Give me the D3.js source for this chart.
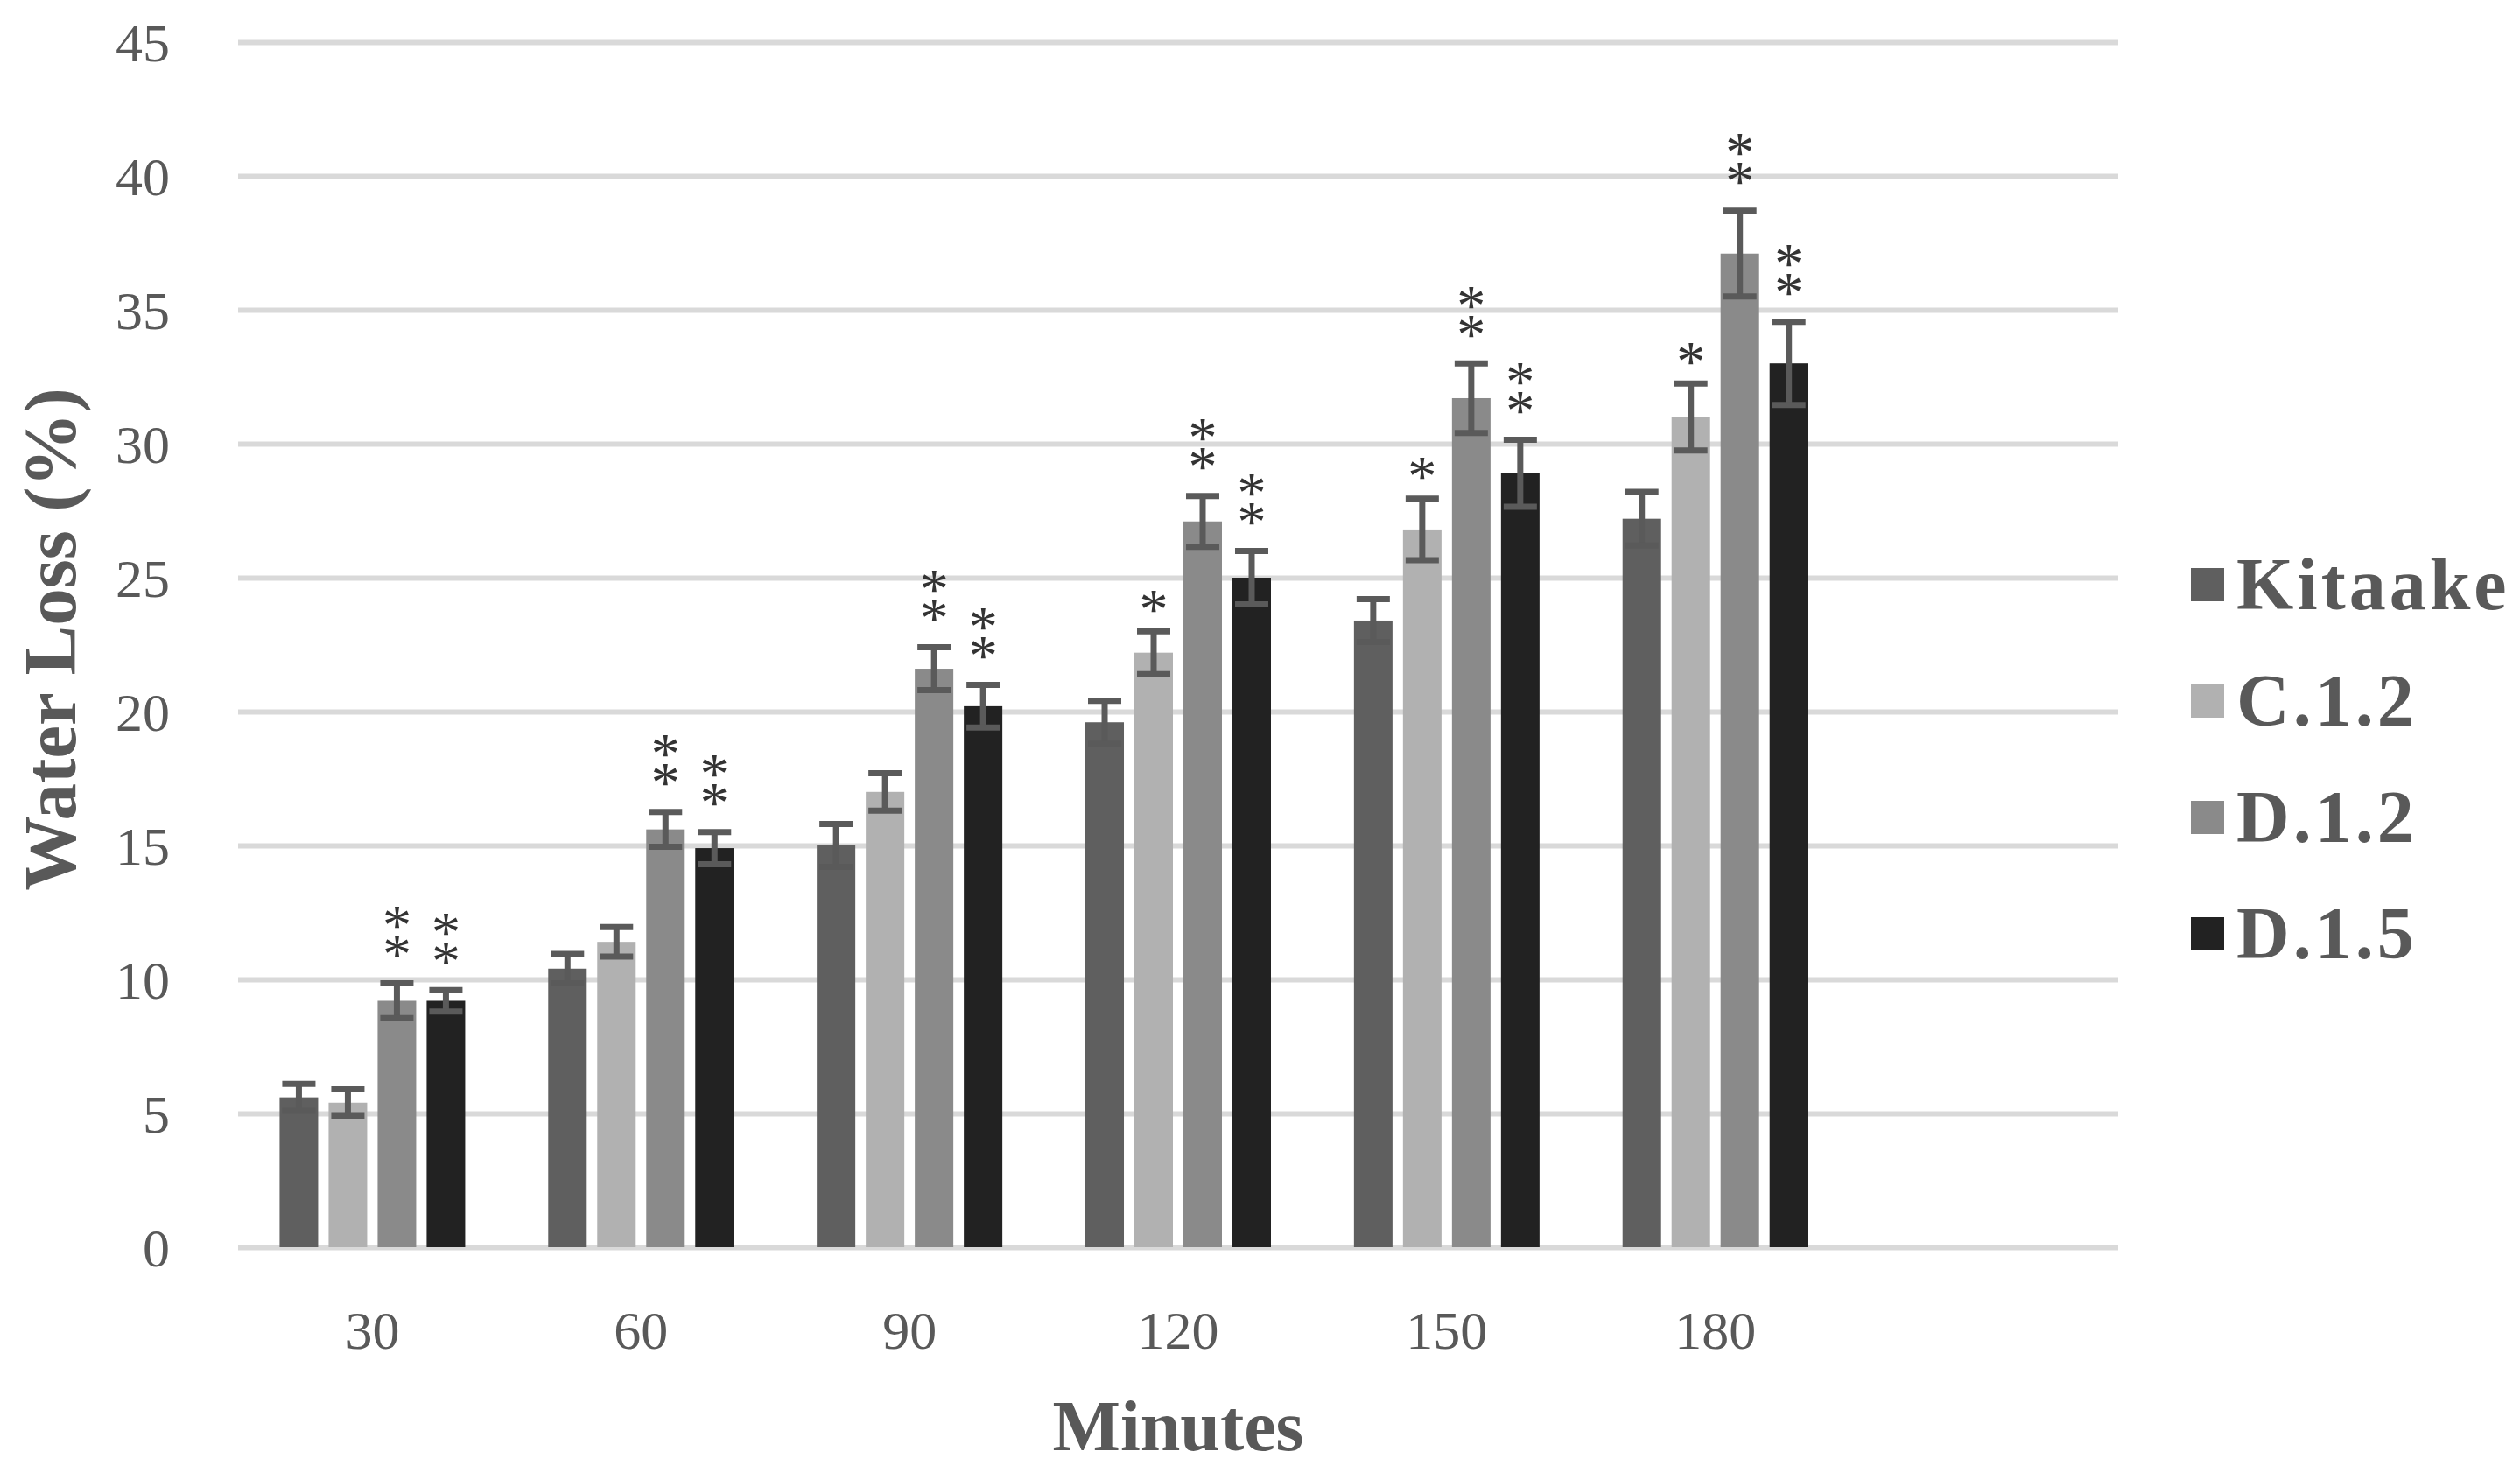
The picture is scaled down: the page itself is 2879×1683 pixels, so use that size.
<!DOCTYPE html>
<html>
<head>
<meta charset="utf-8">
<script src="https://cdn.jsdelivr.net/npm/d3@7"></script>
<style>
  html, body { margin: 0; padding: 0; background: #fff; }
  svg { display: block; }
</style>
</head>
<body>
<svg id="chart"></svg>
<script>
// categories on the x axis (Excel left one empty slot on the right)
const minutes = ["30", "60", "90", "120", "150", "180"];
const categories = [...minutes, ""];
const seriesNames = ["Kitaake", "C.1.2", "D.1.2", "D.1.5"];
const seriesColors = ["#5f5f5f", "#b1b1b1", "#8a8a8a", "#222222"];

// mean water loss (%) and error per series
const kitaake = [5.6, 10.4, 15.0, 19.6, 23.4, 27.2];
const kitaakeErr = [0.5, 0.55, 0.8, 0.8, 0.8, 1.0];
const c12 = [5.4, 11.4, 17.0, 22.2, 26.8, 31.0];
const c12Err = [0.5, 0.55, 0.7, 0.8, 1.15, 1.25];
const d12 = [9.2, 15.6, 21.6, 27.1, 31.7, 37.1];
const d12Err = [0.65, 0.65, 0.8, 0.95, 1.3, 1.6];
const d15 = [9.2, 14.9, 20.2, 25.0, 28.9, 33.0];
const d15Err = [0.4, 0.6, 0.8, 1.0, 1.25, 1.55];

// significance marks
const kitaakeStars = ["", "", "", "", "", ""];
const c12Stars = ["", "", "", "*", "*", "*"];
const d12Stars = ["**", "**", "**", "**", "**", "**"];
const d15Stars = ["**", "**", "**", "**", "**", "**"];

const yTicks = [0, 5, 10, 15, 20, 25, 30, 35, 40, 45];

const values = [kitaake, c12, d12, d15];
const errors = [kitaakeErr, c12Err, d12Err, d15Err];
const stars = [kitaakeStars, c12Stars, d12Stars, d15Stars];

const width = 2879;
const height = 1683;
const plotLeft = 272, plotRight = 2420, plotTop = 48, plotBottom = 1425;
const font = "'Liberation Serif', 'Times New Roman', serif";
const textColor = "#595959";

const svg = d3.select("#chart")
  .attr("width", width)
  .attr("height", height);

const y = d3.scaleLinear()
  .domain([0, 45])
  .range([plotBottom, plotTop]);

const x0 = d3.scaleBand()
  .domain(categories)
  .range([plotLeft, plotRight]);

const groupWidth = 212;
const x1 = d3.scaleBand()
  .domain(seriesNames)
  .range([0, groupWidth])
  .paddingInner(0.214);

// gridlines + y labels
const yAxis = svg.append("g")
  .attr("transform", `translate(${plotLeft},0)`)
  .call(d3.axisLeft(y).tickValues(yTicks).tickSize(-(plotRight - plotLeft)).tickPadding(78));

yAxis.select(".domain").remove();
yAxis.selectAll(".tick line")
  .attr("stroke", "#d9d9d9")
  .attr("stroke-width", 6);
yAxis.selectAll(".tick text")
  .attr("fill", textColor)
  .attr("font-family", font)
  .attr("font-size", 62)
  .attr("dy", "0.34em");

// x labels
const xAxis = svg.append("g")
  .attr("transform", `translate(0,${plotBottom})`)
  .call(d3.axisBottom(x0).tickSize(0).tickPadding(72));

xAxis.select(".domain").remove();
xAxis.selectAll(".tick text")
  .attr("fill", textColor)
  .attr("font-family", font)
  .attr("font-size", 62);

const rows = minutes.map((m, i) => ({
  minute: m,
  items: seriesNames.map((s, k) => ({
    series: s,
    color: seriesColors[k],
    value: values[k][i],
    err: errors[k][i],
    star: stars[k][i]
  }))
}));

const groups = svg.selectAll(".group")
  .data(rows)
  .enter()
  .append("g")
  .attr("class", "group")
  .attr("transform", (d) => `translate(${x0(d.minute) + (x0.bandwidth() - groupWidth) / 2},0)`);

groups.selectAll(".bar")
  .data((d) => d.items)
  .enter()
  .append("rect")
  .attr("class", "bar")
  .attr("x", (d) => x1(d.series))
  .attr("y", (d) => y(d.value))
  .attr("width", x1.bandwidth())
  .attr("height", (d) => y(0) - y(d.value))
  .attr("fill", (d) => d.color);

// error bars
const capW = 38;
const errColor = "#5a5a5a";
const eb = groups.selectAll(".err")
  .data((d) => d.items)
  .enter()
  .append("g")
  .attr("class", "err")
  .attr("transform", (d) => `translate(${x1(d.series) + x1.bandwidth() / 2},0)`);

eb.append("line")
  .attr("x1", 0).attr("x2", 0)
  .attr("y1", (d) => y(d.value + d.err))
  .attr("y2", (d) => y(d.value - d.err))
  .attr("stroke", errColor)
  .attr("stroke-width", 7);

eb.append("line")
  .attr("x1", -capW / 2).attr("x2", capW / 2)
  .attr("y1", (d) => y(d.value + d.err))
  .attr("y2", (d) => y(d.value + d.err))
  .attr("stroke", errColor)
  .attr("stroke-width", 7);

eb.append("line")
  .attr("x1", -capW / 2).attr("x2", capW / 2)
  .attr("y1", (d) => y(d.value - d.err))
  .attr("y2", (d) => y(d.value - d.err))
  .attr("stroke", errColor)
  .attr("stroke-width", 7);

// asterisks, stacked one above another in a single label
const starSize = 66;
const starGap = 33;
eb.filter((d) => d.star.length > 0)
  .append("text")
  .attr("class", "star")
  .attr("text-anchor", "middle")
  .attr("font-family", font)
  .attr("font-size", starSize)
  .attr("fill", "#333333")
  .each(function (d) {
    const capTop = y(d.value + d.err);
    const marks = d.star.split("");
    const first = marks.length > 1 ? 42 : 34;
    const label = d3.select(this);
    marks.forEach((m, i) => {
      const cy = capTop - first - (marks.length - 1 - i) * starGap;
      label.append("tspan")
        .attr("x", 0)
        .attr("y", cy + starSize * 0.46)
        .text(m);
    });
  });

// axis titles
svg.append("text")
  .attr("x", (plotLeft + plotRight) / 2)
  .attr("y", 1657)
  .attr("text-anchor", "middle")
  .attr("font-family", font)
  .attr("font-weight", "bold")
  .attr("font-size", 82)
  .attr("fill", textColor)
  .text("Minutes");

svg.append("text")
  .attr("transform", `translate(86,${(plotTop + plotBottom) / 2 - 6}) rotate(-90)`)
  .attr("text-anchor", "middle")
  .attr("font-family", font)
  .attr("font-weight", "bold")
  .attr("font-size", 85)
  .attr("fill", textColor)
  .text("Water Loss (%)");

// legend
const legend = svg.append("g")
  .attr("transform", "translate(2503,668)");

const item = legend.selectAll(".legend-item")
  .data(seriesNames)
  .enter()
  .append("g")
  .attr("class", "legend-item")
  .attr("transform", (d, i) => `translate(0,${i * 133})`);

item.append("rect")
  .attr("x", 0)
  .attr("y", -19)
  .attr("width", 38)
  .attr("height", 38)
  .attr("fill", (d, i) => seriesColors[i]);

item.append("text")
  .attr("x", 52)
  .attr("y", 28)
  .attr("font-family", font)
  .attr("font-weight", "bold")
  .attr("font-size", 84)
  .attr("letter-spacing", 4)
  .attr("fill", textColor)
  .text((d) => d);
</script>
</body>
</html>
